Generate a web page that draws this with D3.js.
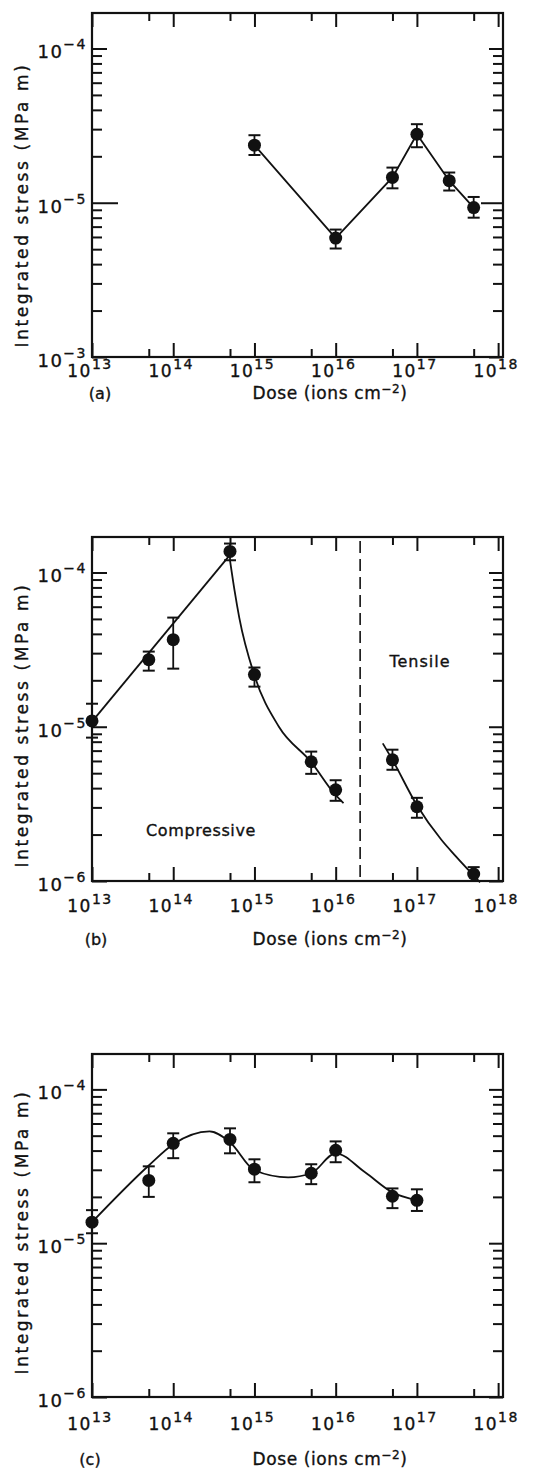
<!DOCTYPE html>
<html>
<head>
<meta charset="utf-8">
<script src="https://cdn.jsdelivr.net/npm/d3@7"></script>
<style>
  body { margin: 0; background: #fff; }
  text { font-family: "DejaVu Sans", sans-serif; fill: #111; stroke: #111; stroke-width: 0.35; }
</style>
</head>
<body>
<div id="viz-container"></div>
<script>
// ---- data ----
const xExponents = [13, 14, 15, 16, 17, 18];
const xMinorTicks = [5e13, 5e14, 5e15, 5e16, 5e17];

// (a)
const doseA   = [1e15, 1e16, 5e16, 1e17, 2.5e17, 5e17];
const stressA = [2.36e-5, 5.9e-6, 1.46e-5, 2.78e-5, 1.39e-5, 9.3e-6];
const errHiA  = [2.74e-5, 6.7e-6, 1.69e-5, 3.23e-5, 1.57e-5, 1.09e-5];
const errLoA  = [2.04e-5, 5.05e-6, 1.24e-5, 2.29e-5, 1.2e-5, 8.0e-6];
const yLabelsA = ["-4", "-5", "-3"];   // the original prints 10^-3 at the bottom

// (b)
const doseB   = [1e13, 5e13, 1e14, 5e14, 1e15, 5e15, 1e16, 5e16, 1e17, 5e17];
const stressB = [1.09e-5, 2.72e-5, 3.67e-5, 1.37e-4, 2.18e-5, 5.93e-6, 3.9e-6, 6.1e-6, 3.03e-6, 1.11e-6];
const errHiB  = [1.41e-5, 3.07e-5, 5.1e-5, 1.54e-4, 2.42e-5, 6.9e-6, 4.5e-6, 7.1e-6, 3.46e-6, 1.23e-6];
const errLoB  = [8.5e-6, 2.31e-5, 2.38e-5, 1.2e-4, 1.82e-5, 4.95e-6, 3.31e-6, 5.26e-6, 2.57e-6, 1.0e-6];
const fitDoseB1   = [1e13, 5e14];
const fitStressB1 = [1.08e-5, 1.3e-4];
const fitDoseB2   = [5e14, 5.7e14, 6.5e14, 1e15, 2e15, 5e15, 1e16, 1.25e16];
const fitStressB2 = [1.2e-4, 7.6e-5, 5.1e-5, 2.15e-5, 1.0e-5, 5.9e-6, 3.6e-6, 3.2e-6];
const fitDoseB3   = [3.8e16, 5e16, 1e17, 2e17, 3e17, 6e17];
const fitStressB3 = [7.8e-6, 6.1e-6, 3.1e-6, 1.85e-6, 1.45e-6, 0.98e-6];
const boundaryDoseB = 2e16;
const yLabelsB = ["-4", "-5", "-6"];

// (c)
const doseC   = [1e13, 5e13, 1e14, 5e14, 1e15, 5e15, 1e16, 5e16, 1e17];
const stressC = [1.37e-5, 2.56e-5, 4.46e-5, 4.73e-5, 3.03e-5, 2.85e-5, 4.02e-5, 2.02e-5, 1.9e-5];
const errHiC  = [1.64e-5, 3.16e-5, 5.18e-5, 5.58e-5, 3.51e-5, 3.26e-5, 4.59e-5, 2.27e-5, 2.24e-5];
const errLoC  = [1.16e-5, 2.0e-5, 3.57e-5, 3.84e-5, 2.49e-5, 2.42e-5, 3.36e-5, 1.69e-5, 1.62e-5];
const fitDoseC   = [1e13, 5e13, 1e14, 2.8e14, 5e14, 1e15, 2.6e15, 5e15, 1e16, 2.3e16, 5e16, 1e17];
const fitStressC = [1.37e-5, 3.2e-5, 4.4e-5, 5.33e-5, 4.53e-5, 2.98e-5, 2.68e-5, 2.85e-5, 3.84e-5, 2.89e-5, 2.14e-5, 1.9e-5];
const yLabelsC = ["-4", "-5", "-6"];

const zip = (xs, ys) => xs.map((d, i) => [d, ys[i]]);
const points = (dose, s, hi, lo) => dose.map((d, i) => ({ dose: d, s: s[i], hi: hi[i], lo: lo[i] }));

const panels = [
  { top: 13, bottom: 357, caption: "(a)", capX: 100, capDy: 42, tickDy: 20, longTick: 1e-5,
    pts: points(doseA, stressA, errHiA, errLoA), fits: [{ data: zip(doseA, stressA), curve: d3.curveLinear }],
    yLabels: yLabelsA, titleY: 205 },
  { top: 537, bottom: 881, caption: "(b)", capX: 96, capDy: 64, tickDy: 31,
    pts: points(doseB, stressB, errHiB, errLoB),
    fits: [{ data: zip(fitDoseB1, fitStressB1), curve: d3.curveLinear },
           { data: zip(fitDoseB2, fitStressB2), curve: d3.curveMonotoneX },
           { data: zip(fitDoseB3, fitStressB3), curve: d3.curveMonotoneX }],
    yLabels: yLabelsB, titleY: 725, boundary: boundaryDoseB },
  { top: 1054, bottom: 1397, caption: "(c)", capX: 90, capDy: 68, tickDy: 33,
    pts: points(doseC, stressC, errHiC, errLoC), fits: [{ data: zip(fitDoseC, fitStressC), curve: d3.curveMonotoneX }],
    yLabels: yLabelsC, titleY: 1232 }
];

const svg = d3.select("#viz-container").append("svg")
  .attr("width", 547).attr("height", 1472);

const left = 92, right = 503;
const yTop = Math.pow(10, -3.77);
const yMajor = [1e-4, 1e-5, 1e-6];
const yMinor = [];
[-6, -5, -4].forEach(e => { for (let m = 2; m <= 9; m++) yMinor.push(m * Math.pow(10, e)); });

function tickAxis(g, axis, tr, len) {
  g.append("g").attr("transform", tr)
    .call(axis.tickSize(len).tickSizeOuter(0).tickFormat(""))
    .call(s => s.select(".domain").remove())
    .call(s => s.selectAll("line").attr("stroke", "#111").attr("stroke-width", 2));
}

function supText(sel, base, exp, expSize, dy) {
  sel.append("tspan").text(base);
  sel.append("tspan").attr("dy", dy).attr("font-size", expSize).text(exp);
}

function drawPanel(p) {
  const x = d3.scaleLog().domain([1e13, Math.pow(10, 18.06)]).range([left, right]);
  const y = d3.scaleLog().domain([1e-6, yTop]).range([p.bottom, p.top]);
  const g = svg.append("g");
  const minors = yMinor.filter(v => v < yTop);
  const majors = yMajor.filter(v => v !== p.longTick);

  // ticks, all pointing inward
  const decades = xExponents.map(e => Math.pow(10, e));
  tickAxis(g, d3.axisTop(x).tickValues(decades), `translate(0,${p.bottom})`, 14);
  tickAxis(g, d3.axisTop(x).tickValues(xMinorTicks), `translate(0,${p.bottom})`, 8);
  tickAxis(g, d3.axisBottom(x).tickValues(decades), `translate(0,${p.top})`, 14);
  tickAxis(g, d3.axisBottom(x).tickValues(xMinorTicks), `translate(0,${p.top})`, 8);
  tickAxis(g, d3.axisRight(y).tickValues(majors), `translate(${left},0)`, 15);
  tickAxis(g, d3.axisRight(y).tickValues(minors), `translate(${left},0)`, 10);
  tickAxis(g, d3.axisLeft(y).tickValues(majors), `translate(${right},0)`, 14);
  tickAxis(g, d3.axisLeft(y).tickValues(minors), `translate(${right},0)`, 10);
  if (p.longTick) {
    tickAxis(g, d3.axisRight(y).tickValues([p.longTick]), `translate(${left},0)`, 26);
    tickAxis(g, d3.axisLeft(y).tickValues([p.longTick]), `translate(${right},0)`, 22);
  }

  g.append("rect")
    .attr("x", left).attr("y", p.top)
    .attr("width", right - left).attr("height", p.bottom - p.top)
    .attr("fill", "none").attr("stroke", "#111").attr("stroke-width", 2.2);

  // x tick labels
  xExponents.forEach(e => {
    const t = g.append("text")
      .attr("x", x(Math.pow(10, e)) - 2).attr("y", p.bottom + p.tickDy)
      .attr("text-anchor", "middle").attr("font-size", 17).attr("letter-spacing", 1.5);
    supText(t, "10", e, 14, -8);
  });

  // y tick labels
  yMajor.forEach((v, i) => {
    const t = g.append("text")
      .attr("x", left - 5).attr("y", y(v) + 10)
      .attr("text-anchor", "end").attr("font-size", 18).attr("letter-spacing", 1.5);
    supText(t, "10", p.yLabels[i].replace("-", "\u2212"), 14, -9);
  });

  // titles
  const xt = g.append("text")
    .attr("x", 330).attr("y", p.bottom + p.capDy)
    .attr("text-anchor", "middle").attr("font-size", 17).attr("letter-spacing", 0.6);
  xt.append("tspan").text("Dose (ions cm");
  xt.append("tspan").attr("dy", -6).attr("font-size", 12).text("\u22122");
  xt.append("tspan").attr("dy", 6).text(")");

  g.append("text")
    .attr("x", p.capX).attr("y", p.bottom + p.capDy)
    .attr("text-anchor", "middle").attr("font-size", 16)
    .text(p.caption);

  g.append("text")
    .attr("transform", `translate(28,${p.titleY}) rotate(-90)`)
    .attr("text-anchor", "middle").attr("font-size", 17).attr("letter-spacing", 2.6)
    .text("Integrated stress (MPa m)");

  // fitted curves
  const line = d3.line().x(d => x(d[0])).y(d => y(d[1]));
  p.fits.forEach(f => {
    g.append("path")
      .attr("d", line.curve(f.curve)(f.data))
      .attr("fill", "none").attr("stroke", "#111").attr("stroke-width", 1.8);
  });

  if (p.boundary) {
    g.append("line")
      .attr("x1", x(p.boundary)).attr("x2", x(p.boundary))
      .attr("y1", p.top + 4).attr("y2", p.bottom)
      .attr("stroke", "#111").attr("stroke-width", 1.6).attr("stroke-dasharray", "12,6");
    g.append("text").attr("x", 420).attr("y", 667)
      .attr("text-anchor", "middle").attr("font-size", 16).attr("letter-spacing", 1)
      .text("Tensile");
    g.append("text").attr("x", 201).attr("y", 836)
      .attr("text-anchor", "middle").attr("font-size", 16).attr("letter-spacing", 0.6)
      .text("Compressive");
  }

  // error bars + markers
  const pg = g.selectAll(".datagroup").data(p.pts).enter()
    .append("g").attr("class", "datagroup");
  pg.append("line")
    .attr("x1", d => x(d.dose)).attr("x2", d => x(d.dose))
    .attr("y1", d => y(d.hi)).attr("y2", d => y(d.lo))
    .attr("stroke", "#111").attr("stroke-width", 1.8);
  ["hi", "lo"].forEach(k => {
    pg.append("line")
      .attr("x1", d => x(d.dose) - 6).attr("x2", d => x(d.dose) + 6)
      .attr("y1", d => y(d[k])).attr("y2", d => y(d[k]))
      .attr("stroke", "#111").attr("stroke-width", 2);
  });
  pg.append("circle")
    .attr("cx", d => x(d.dose)).attr("cy", d => y(d.s))
    .attr("r", 6.5).attr("fill", "#111");
}

panels.forEach(drawPanel);
</script>
</body>
</html>
